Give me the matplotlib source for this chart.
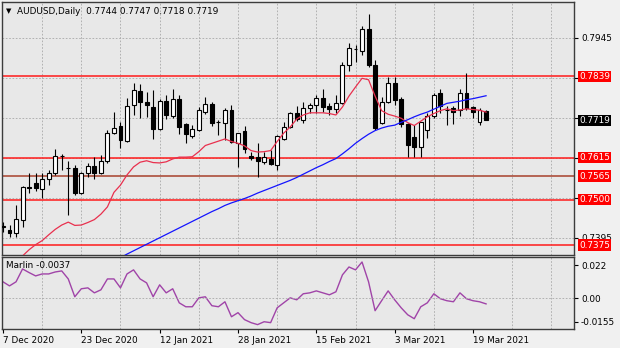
import numpy as np
import matplotlib.pyplot as plt
from matplotlib.patches import Rectangle
from matplotlib import transforms as mtransforms

plt.rcParams['font.family'] = 'DejaVu Sans'
plt.rcParams['font.size'] = 6.4

# AUDUSD daily bars
open_ = [0.7424, 0.7416, 0.7408, 0.7444, 0.7534, 0.7546, 0.7529, 0.7557, 0.7573, 0.7621,
         0.7588, 0.7587, 0.7518, 0.7573, 0.7593, 0.7573, 0.7606, 0.7683, 0.7703, 0.7661,
         0.7761, 0.7799, 0.7769, 0.7755, 0.7694, 0.7772, 0.7730, 0.7777, 0.7708, 0.7675,
         0.7692, 0.7741, 0.7763, 0.7715, 0.7711, 0.7747, 0.7656, 0.7690, 0.7620, 0.7617,
         0.7604, 0.7612, 0.7595, 0.7667, 0.7700, 0.7739, 0.7719, 0.7752, 0.7761, 0.7780,
         0.7758, 0.7750, 0.7766, 0.7871, 0.7914, 0.7909, 0.7970, 0.7871, 0.7711, 0.7769,
         0.7821, 0.7777, 0.7708, 0.7672, 0.7645, 0.7692, 0.7730, 0.7794, 0.7748, 0.7752,
         0.7747, 0.7794, 0.7755, 0.7714, 0.7744]
high = [0.7438, 0.7430, 0.7485, 0.7538, 0.7573, 0.7573, 0.7573, 0.7582, 0.7639, 0.7626,
        0.7606, 0.7595, 0.7576, 0.7601, 0.7617, 0.7623, 0.7692, 0.7741, 0.7714, 0.7780,
        0.7821, 0.7818, 0.7796, 0.7802, 0.7777, 0.7788, 0.7805, 0.7788, 0.7711, 0.7705,
        0.7755, 0.7783, 0.7769, 0.7719, 0.7752, 0.7761, 0.7683, 0.7703, 0.7630, 0.7656,
        0.7631, 0.7637, 0.7678, 0.7714, 0.7741, 0.7758, 0.7769, 0.7766, 0.7788, 0.7805,
        0.7766, 0.7788, 0.7879, 0.7931, 0.7926, 0.7978, 0.8011, 0.7884, 0.7783, 0.7838,
        0.7838, 0.7783, 0.7711, 0.7705, 0.7714, 0.7739, 0.7794, 0.7805, 0.7758, 0.7758,
        0.7805, 0.7849, 0.7757, 0.7752, 0.7747]
low = [0.7411, 0.7397, 0.7397, 0.7425, 0.7518, 0.7524, 0.7505, 0.7541, 0.7568, 0.7582,
       0.7458, 0.7513, 0.7516, 0.7562, 0.7557, 0.7570, 0.7601, 0.7681, 0.7642, 0.7659,
       0.7733, 0.7725, 0.7728, 0.7667, 0.7692, 0.7722, 0.7725, 0.7681, 0.7656, 0.7670,
       0.7689, 0.7736, 0.7703, 0.7678, 0.7664, 0.7656, 0.7590, 0.7628, 0.7610, 0.7562,
       0.7598, 0.7595, 0.7582, 0.7664, 0.7697, 0.7716, 0.7711, 0.7739, 0.7739, 0.7741,
       0.7733, 0.7739, 0.7763, 0.7854, 0.7879, 0.7898, 0.7865, 0.7692, 0.7708, 0.7766,
       0.7761, 0.7700, 0.7617, 0.7617, 0.7617, 0.7670, 0.7725, 0.7739, 0.7705, 0.7708,
       0.7730, 0.7747, 0.7725, 0.7705, 0.7718]
close = [0.7426, 0.7408, 0.7447, 0.7535, 0.7532, 0.7532, 0.7557, 0.7573, 0.7620, 0.7619,
         0.7586, 0.7518, 0.7573, 0.7593, 0.7573, 0.7606, 0.7683, 0.7697, 0.7664, 0.7758,
         0.7802, 0.7769, 0.7761, 0.7694, 0.7772, 0.7733, 0.7777, 0.7700, 0.7681, 0.7694,
         0.7747, 0.7763, 0.7711, 0.7713, 0.7747, 0.7659, 0.7683, 0.7640, 0.7615, 0.7606,
         0.7617, 0.7598, 0.7675, 0.7700, 0.7739, 0.7722, 0.7752, 0.7761, 0.7780, 0.7755,
         0.7750, 0.7766, 0.7871, 0.7917, 0.7915, 0.7970, 0.7871, 0.7697, 0.7769, 0.7821,
         0.7774, 0.7708, 0.7650, 0.7645, 0.7714, 0.7730, 0.7788, 0.7758, 0.7746, 0.7741,
         0.7794, 0.7752, 0.7741, 0.7747, 0.7719]

date_ticks = [0, 12, 24, 36, 48, 60, 72]
date_labels = ['7 Dec 2020', '23 Dec 2020', '12 Jan 2021', '28 Jan 2021',
               '15 Feb 2021', '3 Mar 2021', '19 Mar 2021']

# moving averages (red = fast, blue = slow)
fast_ma_start = 3
fast_ma = [0.7345, 0.7362, 0.7376, 0.7387, 0.7403, 0.7418, 0.7430, 0.7438, 0.7429, 0.7430,
           0.7437, 0.7445, 0.7460, 0.7480, 0.7520, 0.7540, 0.7568, 0.7590, 0.7603, 0.7607,
           0.7602, 0.7601, 0.7604, 0.7612, 0.7617, 0.7617, 0.7618, 0.7632, 0.7649, 0.7655,
           0.7661, 0.7667, 0.7660, 0.7655, 0.7648, 0.7635, 0.7631, 0.7632, 0.7635, 0.7660,
           0.7683, 0.7700, 0.7722, 0.7733, 0.7739, 0.7739, 0.7739, 0.7737, 0.7733, 0.7755,
           0.7785, 0.7810, 0.7834, 0.7830, 0.7785, 0.7745, 0.7735, 0.7730, 0.7724, 0.7712,
           0.7704, 0.7716, 0.7728, 0.7737, 0.7745, 0.7750, 0.7745, 0.7747, 0.7750, 0.7748,
           0.7746, 0.7741]
slow_ma_start = 17
slow_ma = [0.7331, 0.7340, 0.7350, 0.7359, 0.7368, 0.7377, 0.7386, 0.7395, 0.7404, 0.7413,
           0.7422, 0.7431, 0.7440, 0.7449, 0.7458, 0.7467, 0.7475, 0.7484, 0.7491, 0.7497,
           0.7503, 0.7510, 0.7518, 0.7525, 0.7532, 0.7539, 0.7546, 0.7553, 0.7561, 0.7570,
           0.7579, 0.7588, 0.7596, 0.7605, 0.7613, 0.7626, 0.7640, 0.7655, 0.7668, 0.7680,
           0.7690, 0.7697, 0.7702, 0.7705, 0.7713, 0.7720, 0.7728, 0.7735, 0.7741, 0.7749,
           0.7757, 0.7765, 0.7768, 0.7771, 0.7775, 0.7778, 0.7782, 0.7786]

marlin = [0.0109, 0.0082, 0.0109, 0.0194, 0.0170, 0.0148, 0.0161, 0.0161, 0.0174, 0.0181,
          0.0128, 0.0010, 0.0063, 0.0069, 0.0036, 0.0056, 0.0128, 0.0128, 0.0069, 0.0161,
          0.0188, 0.0128, 0.0102, 0.0010, 0.0089, 0.0036, 0.0063, -0.0030, -0.0056, -0.0056,
          0.0003, 0.0010, -0.0049, -0.0056, -0.0023, -0.0122, -0.0095, -0.0141, -0.0161, -0.0174,
          -0.0155, -0.0161, -0.0063, -0.0030, 0.0003, -0.0010, 0.0030, 0.0036, 0.0049, 0.0036,
          0.0023, 0.0043, 0.0155, 0.0207, 0.0188, 0.0240, 0.0109, -0.0082, -0.0016, 0.0049,
          -0.0010, -0.0063, -0.0109, -0.0135, -0.0056, -0.0030, 0.0030, -0.0003, -0.0016, -0.0023,
          0.0036, -0.0003, -0.0016, -0.0023, -0.0037]

levels = [0.7839, 0.7615, 0.7565, 0.7500, 0.7375]
level_colors = ['#ff1a1a', '#ff1a1a', '#a8402c', '#ff1a1a', '#ff1a1a']
price_grid = [0.7395, 0.7505, 0.7615, 0.7725, 0.7835, 0.7945]
price_shown = [0.7395, 0.7945]
marlin_ticks = [-0.0155, 0.0, 0.022]
marlin_labels = ['-0.0155', '0.00', '0.022']

W, H = 620, 348
fig = plt.figure(figsize=(W / 100, H / 100), dpi=100, facecolor='#f0f0f0')


def px_axes(x0, y0, x1, y1):
    return fig.add_axes([x0 / W, 1 - y1 / H, (x1 - x0) / W, (y1 - y0) / H])


ax = px_axes(2, 2, 574, 255)
axm = px_axes(2, 257, 574, 329)

for a in (ax, axm):
    a.set_facecolor('#e8e8e8')
    a.set_xlim(-0.15, 87.47)
    a.yaxis.tick_right()
    a.set_xticks(np.arange(6, 88, 6), minor=True)
    a.grid(which='minor', axis='x', color='#a8a8a8', ls=(0, (2, 2)), lw=0.6)
    a.tick_params(axis='y', length=3, width=0.8, pad=2, colors='black')
    for s in a.spines.values():
        s.set_color('#3c3c3c')
        s.set_linewidth(1)

# candles
n = len(close)
for i in range(n):
    ax.vlines(i, low[i], high[i], color='black', lw=0.8, zorder=3)
    lo = min(open_[i], close[i])
    hgt = abs(close[i] - open_[i])
    face = 'white' if close[i] >= open_[i] else 'black'
    ax.add_patch(Rectangle((i - 0.3, lo), 0.6, hgt, facecolor=face,
                           edgecolor='black', lw=0.8, zorder=4))

ax.plot(np.arange(fast_ma_start, fast_ma_start + len(fast_ma)), fast_ma,
        color='#e8304e', lw=0.9, zorder=5)
ax.plot(np.arange(slow_ma_start, slow_ma_start + len(slow_ma)), slow_ma,
        color='#1414ff', lw=0.9, zorder=5)

for lv, c in zip(levels, level_colors):
    ax.axhline(lv, color=c, lw=1.1, zorder=2)

ax.set_ylim(0.73475, 0.80441)
ax.set_yticks(price_grid)
ax.set_yticklabels([f'{p:.4f}' if p in price_shown else '' for p in price_grid])
ax.grid(which='major', axis='y', color='#a8a8a8', ls=(0, (2, 2)), lw=0.6)
ax.set_xticks([])
ax.tick_params(axis='x', which='both', length=0, labelbottom=False)

# price labels on the right scale
lab_tr = mtransforms.offset_copy(mtransforms.blended_transform_factory(ax.transAxes, ax.transData),
                                 fig=fig, x=5, y=0, units='dots')
for lv in levels:
    ax.text(1, lv, f'{lv:.4f}', transform=lab_tr, ha='left', va='center', color='white',
            clip_on=False, zorder=10,
            bbox=dict(boxstyle='square,pad=0.12', fc='#ff0000', ec='none'))
ax.text(1, close[-1], f'{close[-1]:.4f}', transform=lab_tr, ha='left', va='center',
        color='white', clip_on=False, zorder=10,
        bbox=dict(boxstyle='square,pad=0.12', fc='black', ec='none'))

# Marlin oscillator
axm.plot(np.arange(len(marlin)), marlin, color='#a044a8', lw=1)
axm.axhline(0, color='#a8a8a8', ls=(0, (2, 2)), lw=0.6)
axm.set_ylim(-0.0203, 0.0273)
axm.set_yticks(marlin_ticks)
axm.set_yticklabels(marlin_labels)
axm.set_xticks(date_ticks)
axm.set_xticklabels(date_labels)
axm.tick_params(axis='x', which='major', length=3, width=0.8, pad=2, colors='black')
axm.tick_params(axis='x', which='minor', length=0)
for lbl in axm.get_xticklabels():
    lbl.set_ha('left')

fig.text(6 / W, 1 - 11 / H, '\u25bc', fontsize=5, va='center', ha='left')
fig.text(17 / W, 1 - 11 / H,
         f'AUDUSD,Daily  {open_[-1]:.4f} {high[-1]:.4f} {low[-1]:.4f} {close[-1]:.4f}',
         va='center', ha='left')
fig.text(6 / W, 1 - 266 / H, f'Marlin {marlin[-1]:.4f}', va='center', ha='left')

fig.savefig('out.png', dpi=100, facecolor=fig.get_facecolor())
